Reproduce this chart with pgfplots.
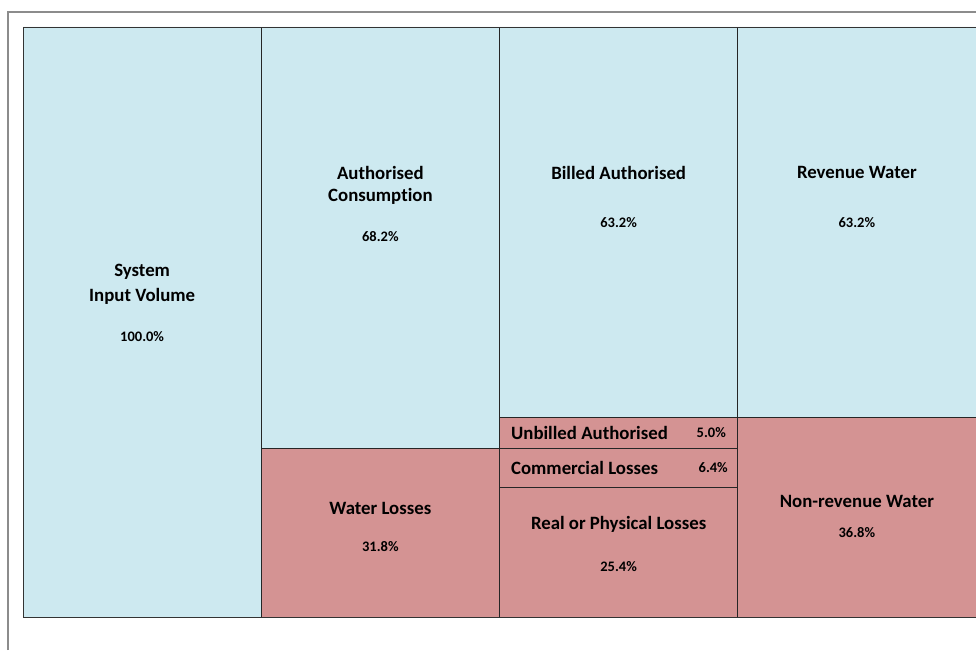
\documentclass[border=0pt]{standalone}
\usepackage{pgfplots}
\pgfplotsset{compat=1.18}
\usepackage{fontspec}
\setmainfont{Carlito}[Ligatures=NoCommon]

\definecolor{authblue}{RGB}{205,233,240}
\definecolor{lossred}{RGB}{212,147,147}

\tikzset{
  lbl/.style={font=\fontsize{18.8}{20}\selectfont\bfseries, inner sep=0pt},
  pct/.style={font=\fontsize{14.5}{16}\selectfont\bfseries, inner sep=0pt},
}

\begin{document}
\begin{tikzpicture}
\useasboundingbox (0pt,0pt) rectangle (976pt,650pt);
% outer chart frame
\draw[black!45, line width=1.2pt] (8pt,0pt) -- (8pt,638pt) -- (980pt,638pt);
\begin{axis}[
  at={(23pt,33pt)}, anchor=south west,
  width=953pt, height=590pt, scale only axis,
  ybar stacked, bar width=1,
  xmin=-0.5, xmax=3.5,
  y dir=reverse, ymin=0, ymax=95.55,
  enlargelimits=false, axis on top,
  xtick=\empty, ytick=\empty,
  axis line style={black!80, line width=0.8pt},
  every axis plot/.append style={draw=black!85, line width=0.7pt},
]
% layer 1: top of each column
\addplot[fill=authblue] coordinates {(0,100.0)(1,68.2)(2,63.2)(3,63.2)};
% layer 2
\addplot[fill=lossred] coordinates {(0,0)(1,31.8)(2,5.0)(3,36.8)};
% layer 3
\addplot[fill=lossred] coordinates {(0,0)(1,0)(2,6.4)(3,0)};
% layer 4
\addplot[fill=lossred] coordinates {(0,0)(1,0)(2,25.4)(3,0)};

% label anchors, drawn after the axis so the bars do not cover them
\coordinate (sys1) at (axis cs:0,39.7);
\coordinate (sys2) at (axis cs:0,43.7);
\coordinate (sysp) at (axis cs:0,50.2);
\coordinate (au1) at (axis cs:1,23.6);
\coordinate (au2) at (axis cs:1,27.5);
\coordinate (aup) at (axis cs:1,34.0);
\coordinate (bi1) at (axis cs:2,23.6);
\coordinate (bip) at (axis cs:2,31.6);
\coordinate (rv1) at (axis cs:3,23.6);
\coordinate (rvp) at (axis cs:3,31.6);
\coordinate (wl1) at (axis cs:1,77.9);
\coordinate (wlp) at (axis cs:1,84.2);
\coordinate (ub1) at (axis cs:1.548,65.7);
\coordinate (ubp) at (axis cs:2.451,65.7);
\coordinate (cm1) at (axis cs:1.548,71.4);
\coordinate (cmp) at (axis cs:2.459,71.4);
\coordinate (rl1) at (axis cs:2,80.6);
\coordinate (rlp) at (axis cs:2,87.4);
\coordinate (nr1) at (axis cs:3,76.9);
\coordinate (nrp) at (axis cs:3,81.8);
\end{axis}

\node[lbl] at (sys1) {System};
\node[lbl] at (sys2) {Input Volume};
\node[pct] at (sysp) {100.0\%};
\node[lbl] at (au1) {Authorised};
\node[lbl] at (au2) {Consumption};
\node[pct] at (aup) {68.2\%};
\node[lbl] at (bi1) {Billed Authorised};
\node[pct] at (bip) {63.2\%};
\node[lbl] at (rv1) {Revenue Water};
\node[pct] at (rvp) {63.2\%};
\node[lbl] at (wl1) {Water Losses};
\node[pct] at (wlp) {31.8\%};
\node[lbl, anchor=west] at (ub1) {Unbilled Authorised};
\node[pct, anchor=east] at (ubp) {5.0\%};
\node[lbl, anchor=west] at (cm1) {Commercial Losses};
\node[pct, anchor=east] at (cmp) {6.4\%};
\node[lbl] at (rl1) {Real or Physical Losses};
\node[pct] at (rlp) {25.4\%};
\node[lbl] at (nr1) {Non-revenue Water};
\node[pct] at (nrp) {36.8\%};
\end{tikzpicture}
\end{document}
